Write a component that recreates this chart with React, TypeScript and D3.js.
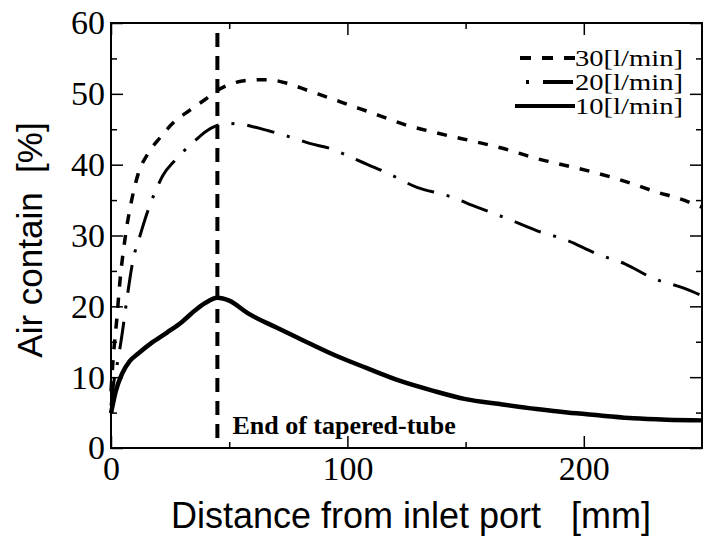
import React, { useRef, useEffect } from "react";
import * as d3 from "d3";

// 30 l/min (dashed)
const dist30 = [0, 1, 2.4, 3.8, 6, 9, 11.5, 15.7, 20.7, 26, 33.4, 39.8, 45, 50, 57.5, 66, 74.5, 83, 92.6, 101, 109.6, 117, 125.6, 134, 142.6, 152, 161, 169, 178.5, 187, 196, 205.6, 214, 222.5, 231, 238.6, 250];
const air30 = [8, 13, 18, 23.6, 29.7, 35.4, 38.7, 41.6, 43.8, 45.8, 47.7, 49.2, 50.5, 51.3, 51.9, 52, 51.5, 50.5, 49.4, 48.4, 47.4, 46.5, 45.5, 44.8, 44.1, 43.4, 42.7, 42, 41, 40.3, 39.6, 38.8, 38, 37.1, 36.1, 35.4, 34];

// 20 l/min (dash-dot)
const dist20 = [0, 1.5, 3, 4.7, 6.8, 9.3, 12.3, 15.2, 18.6, 22, 27, 34.3, 40.6, 47, 53, 59.6, 66.4, 77.8, 84, 92.6, 104.5, 117, 129.4, 142.6, 154.8, 166.7, 180, 193, 205.6, 217.4, 229, 242, 250];
const air20 = [6, 10, 12.5, 16.1, 21.2, 26.5, 30, 33.1, 36.1, 38.5, 40.6, 43, 44.8, 45.7, 45.8, 45.4, 44.8, 43.7, 43, 42.3, 40.6, 38.8, 36.8, 35.6, 34, 32.5, 30.7, 29.3, 27.4, 26, 24, 22.6, 21.5];

// 10 l/min (solid)
const dist10 = [0, 2, 4.7, 8, 11.4, 17, 23.7, 30, 35.5, 40, 45, 50, 58, 70, 80, 94, 108, 122, 136, 150, 164.5, 180, 193, 207, 221, 235, 250];
const air10 = [4.9, 8, 10.5, 12.3, 13.3, 14.8, 16.3, 17.8, 19.4, 20.5, 21.2, 20.8, 19, 17, 15.4, 13.2, 11.3, 9.5, 8.1, 6.9, 6.2, 5.5, 5, 4.6, 4.2, 4, 3.9];

const legendLabels = ["30[l/min]", "20[l/min]", "10[l/min]"];
const xMajor = [0, 100, 200];
const xMinor = [50, 150];
const yMajor = [0, 10, 20, 30, 40, 50, 60];
const yMinor = [5, 15, 25, 35, 45, 55];
const taperEnd = 45;

const W = 706;
const H = 541;
const M = { left: 111, right: 4, top: 23, bottom: 93 };

const SERIF = "'Liberation Serif', 'Times New Roman', serif";
const SANS = "'Liberation Sans', Arial, sans-serif";

const App = () => {
  const ref = useRef<SVGSVGElement>(null);

  useEffect(() => {
    if (!ref.current) return;
    const svg = d3.select(ref.current);
    svg.selectAll("*").remove();

    const x = d3.scaleLinear().domain([0, 250]).range([M.left, W - M.right]);
    const y = d3.scaleLinear().domain([0, 60]).range([H - M.bottom, M.top]);
    const x0 = M.left, x1 = W - M.right, y0 = H - M.bottom, y1 = M.top;

    const g = svg.append("g");

    // ticks point inward on all four sides
    const styleAxis = (sel) => {
      sel.select(".domain").remove();
      sel.selectAll(".tick line").attr("stroke", "#000").attr("stroke-width", 1.5);
      sel.selectAll("text").attr("font-family", SERIF).attr("font-size", 34).attr("fill", "#000");
    };
    g.append("g").attr("transform", `translate(0,${y0})`)
      .call(d3.axisBottom(x).tickValues(xMajor).tickSize(-12).tickPadding(8).tickFormat(d3.format("d")))
      .call(styleAxis);
    g.append("g").attr("transform", `translate(0,${y0})`)
      .call(d3.axisBottom(x).tickValues(xMinor).tickSize(-6).tickFormat(() => ""))
      .call(styleAxis);
    g.append("g").attr("transform", `translate(0,${y1})`)
      .call(d3.axisTop(x).tickValues(xMajor).tickSize(-12).tickFormat(() => ""))
      .call(styleAxis);
    g.append("g").attr("transform", `translate(0,${y1})`)
      .call(d3.axisTop(x).tickValues(xMinor).tickSize(-6).tickFormat(() => ""))
      .call(styleAxis);
    g.append("g").attr("transform", `translate(${x0},0)`)
      .call(d3.axisLeft(y).tickValues(yMajor).tickSize(-12).tickPadding(6).tickFormat(d3.format("d")))
      .call(styleAxis);
    g.append("g").attr("transform", `translate(${x0},0)`)
      .call(d3.axisLeft(y).tickValues(yMinor).tickSize(-6).tickFormat(() => ""))
      .call(styleAxis);
    g.append("g").attr("transform", `translate(${x1},0)`)
      .call(d3.axisRight(y).tickValues(yMajor).tickSize(-12).tickFormat(() => ""))
      .call(styleAxis);
    g.append("g").attr("transform", `translate(${x1},0)`)
      .call(d3.axisRight(y).tickValues(yMinor).tickSize(-6).tickFormat(() => ""))
      .call(styleAxis);

    // frame
    g.append("rect")
      .attr("x", x0).attr("y", y1)
      .attr("width", x1 - x0).attr("height", y0 - y1)
      .attr("fill", "none").attr("stroke", "#000").attr("stroke-width", 2);

    // end of tapered tube marker
    g.append("line")
      .attr("x1", x(taperEnd)).attr("x2", x(taperEnd))
      .attr("y1", y1 + 10).attr("y2", y0)
      .attr("stroke", "#000").attr("stroke-width", 4)
      .attr("stroke-dasharray", "14,9");
    g.append("text")
      .attr("x", x(taperEnd) + 15).attr("y", y0 - 14)
      .attr("font-family", SERIF).attr("font-size", 26).attr("font-weight", "bold")
      .text("End of tapered-tube");

    const line = d3.line<[number, number]>()
      .x((d) => x(d[0])).y((d) => y(d[1]))
      .curve(d3.curveMonotoneX);

    const series = [
      { xs: dist30, ys: air30, dash: "10,11", width: 3.5 },
      { xs: dist20, ys: air20, dash: "28,13,3,13", width: 3 },
      { xs: dist10, ys: air10, dash: null, width: 4.5 },
    ];

    const plot = g.append("g");
    series.forEach((s) => {
      plot.append("path")
        .datum(s.xs.map((v, i) => [v, s.ys[i]] as [number, number]))
        .attr("d", line)
        .attr("fill", "none")
        .attr("stroke", "#000")
        .attr("stroke-width", s.width)
        .attr("stroke-dasharray", s.dash);
    });

    // legend
    const legendDash = ["11,11", "3,14,30", null];
    const legendStart = [520, 526, 515];
    const leg = g.append("g");
    legendLabels.forEach((lab, i) => {
      const by = 66 + i * 24;
      leg.append("line")
        .attr("x1", legendStart[i]).attr("x2", 575)
        .attr("y1", by - 8).attr("y2", by - 8)
        .attr("stroke", "#000").attr("stroke-width", 4)
        .attr("stroke-dasharray", legendDash[i]);
      leg.append("text")
        .attr("x", 575).attr("y", by)
        .attr("font-family", SERIF).attr("font-size", 23)
        .attr("textLength", 108).attr("lengthAdjust", "spacingAndGlyphs")
        .text(lab);
    });

    // axis titles
    g.append("text")
      .attr("x", 411).attr("y", 528)
      .attr("text-anchor", "middle")
      .attr("font-family", SANS).attr("font-size", 36)
      .style("white-space", "pre")
      .text("Distance from inlet port   [mm]");
    g.append("text")
      .attr("transform", `translate(42,240) rotate(-90)`)
      .attr("text-anchor", "middle")
      .attr("font-family", SANS).attr("font-size", 35)
      .style("white-space", "pre")
      .text("Air contain  [%]");
  }, []);

  return (
    <svg
      ref={ref}
      width={W}
      height={H}
      style={{ position: "absolute", left: 0, top: 0, background: "#fff" }}
    />
  );
};

export default App;
